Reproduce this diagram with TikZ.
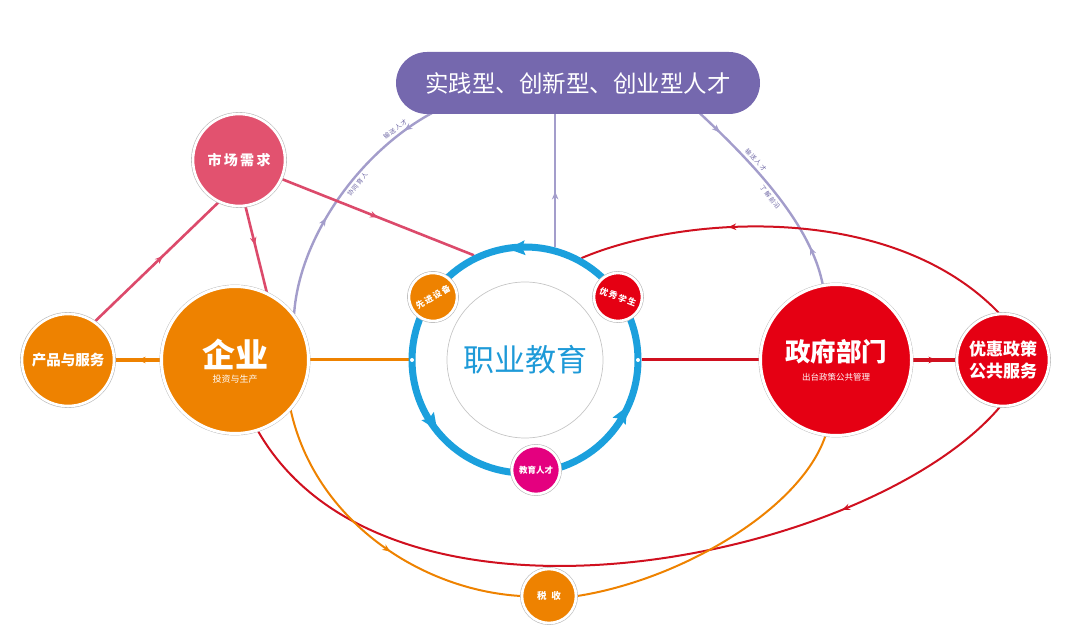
\documentclass[tikz,border=0pt]{standalone}
\usepackage{fontspec}
\setmainfont{Noto Sans CJK SC}
\usetikzlibrary{arrows.meta,decorations.markings,calc}
\definecolor{orangeC}{HTML}{EE8200}
\definecolor{pinkC}{HTML}{E2526F}
\definecolor{pinkL}{HTML}{DC4A6B}
\definecolor{redC}{HTML}{E50013}
\definecolor{redL}{HTML}{D0101F}
\definecolor{purpleB}{HTML}{7568AE}
\definecolor{purpleL}{HTML}{A39DCB}
\definecolor{purpleT}{HTML}{6F68A5}
\definecolor{blueC}{HTML}{1BA0DD}
\definecolor{blueT}{HTML}{1E9AD8}
\definecolor{magC}{HTML}{E4007F}
\pgfdeclarelayer{bg}
\pgfsetlayers{bg,main}
\newcommand\ringarr[1]{\fill[blueC, shift={({525+112*cos(#1)},{360-112*sin(#1)})}, rotate={#1+90}] (9,0) -- (-8,7.5) -- (-5,0) -- (-8,-7.5) -- cycle;}
\tikzset{
  bub/.style={circle, inner sep=0pt, fill=#1, draw=white, line width=2.6pt,
    preaction={draw=gray!55, line width=3.8pt}, text=white, align=center},
  wtext/.style={text=white, inner sep=0pt},
  midarr/.style={decoration={markings, mark=at position #1 with {\arrow{Stealth[length=8pt,width=6.5pt]}}}, postaction={decorate}},
  pline/.style={draw=purpleL, line width=2.4pt},
  kline/.style={draw=pinkL, line width=2.6pt},
  oline/.style={draw=orangeC, line width=2pt},
  rline/.style={draw=redL, line width=2pt},
  plab/.style={font=\fontsize{6.2}{7}\selectfont, text=purpleT, inner sep=2.5pt, sloped},
  smallf/.style={font=\fontsize{8.5}{10}\selectfont\bfseries},
}
\begin{document}
\begin{tikzpicture}[x=1pt,y=-1pt]
\useasboundingbox (0,0) rectangle (1080,644);
% banner
\node[fill=purpleB, rounded corners=31pt, minimum width=364pt, minimum height=62pt, text=white, inner sep=0pt] (banner) at (578,83) {\fontsize{23.5}{26}\selectfont 实践型、创新型、创业型人才};
% main nodes
\node[bub=pinkC, minimum size=92pt, font=\fontsize{14}{16}\selectfont\bfseries] (sc) at (239,160) {市\,场\,需\,求};
\node[bub=orangeC, minimum size=92pt, font=\fontsize{14.5}{16}\selectfont\bfseries] (cp) at (68,360) {产品与服务};
\node[bub=orangeC, minimum size=147pt, line width=3pt] (qy) at (235,360) {};
\node[wtext, font=\fontsize{33}{36}\selectfont\bfseries] (qyt) at (235,354) {企业};
\node[wtext, font=\fontsize{9}{10}\selectfont] (qys) at (235,379) {投资与生产};
\node[bub=redC, minimum size=151pt, line width=3pt] (zf) at (836,360) {};
\node[wtext, font=\fontsize{25.5}{28}\selectfont\bfseries] (zft) at (836,352) {政府部门};
\node[wtext, font=\fontsize{8.5}{10}\selectfont] (zfs) at (836,377) {出台政策公共管理};
\node[bub=redC, minimum size=92pt, font=\fontsize{17}{22}\selectfont\bfseries] (yh) at (1003,360) {优惠政策\\公共服务};
\node[bub=orangeC, minimum size=54pt, font=\fontsize{9.5}{10}\selectfont\bfseries] (ss) at (549,596) {税\enspace 收};
% ring
\node[circle, draw=blueC, line width=7pt, minimum size=226pt, inner sep=0pt] (ring) at (525,360) {};
\node[circle, draw=gray!45, line width=0.7pt, minimum size=156pt, inner sep=0pt, text=blueT, font=\fontsize{31}{34}\selectfont] (jy) at (525,360) {职业教育};
\ringarr{94}
\ringarr{214}
\ringarr{331}
\fill[white] ($(ring.center)+(-113,0)$) circle[radius=2pt];
\fill[white] ($(ring.center)+(113,0)$) circle[radius=2pt];
\node[bub=orangeC, minimum size=48pt, rotate=30, smallf] (xj) at (433,297) {先\,进\,设\,备};
\node[bub=redC, minimum size=48pt, rotate=-21, smallf] (yx) at (618,297) {优\,秀\,学\,生};
\node[bub=magC, minimum size=48pt, smallf] (jr) at (536,470) {教育人才};
% connectors
\begin{pgfonlayer}{bg}
\draw[pline, decoration={markings,
   mark=at position 0.38 with {\arrow{Stealth[length=8pt,width=6.5pt]}},
   mark=at position 0.85 with {\arrow{Stealth[length=8pt,width=6.5pt,reversed]}}}, postaction={decorate}]
  (qy.38) .. controls (300,230) and (370,140) .. ($(banner.south west)+(50,-8)$)
  node[plab, above, pos=0.79] (l1) {输\,送\,人\,才}
  node[plab, below, pos=0.55] (l2) {协\,同\,育\,人};
\draw[pline, decoration={markings,
   mark=at position 0.17 with {\arrow{Stealth[length=8pt,width=6.5pt]}},
   mark=at position 0.86 with {\arrow{Stealth[length=8pt,width=6.5pt,reversed]}}}, postaction={decorate}]
  ($(banner.south east)+(-68,-8)$) .. controls (745,155) and (810,220) .. (zf.100)
  node[plab, above, pos=0.36] (l3) {输\,送\,人\,才}
  node[plab, below, pos=0.52] (l4) {了\,解\,前\,沿};
\draw[pline, midarr=0.42] (ring.75) -- (ring.75 |- banner.south);
\draw[rline, midarr=0.66] (yh.95) .. controls (890,200) and (680,216) .. (ring.61);
\draw[rline, midarr=0.23] (yh.266) .. controls (870,560) and (390,660) .. (qy.288);
\draw[oline, midarr=0.56] (qy.318) .. controls (315,520) and (420,590) .. (ss.180);
\draw[oline] (ss.0) .. controls (680,580) and (800,510) .. (zf.262);
\draw[kline, midarr=0.55] (cp.55) -- (sc.244);
\draw[kline, midarr=0.45] (sc.278) -- (qy.65);
\draw[kline, midarr=0.5] (sc.336) -- (ring.116);
\draw[oline, line width=3.5pt, midarr=0.5] (qy.180) -- (cp.0);
\draw[oline, line width=3pt] (qy.0) -- (ring.180);
\draw[rline, line width=3pt] (ring.0) -- (zf.180);
\draw[rline, line width=3.5pt, midarr=0.55] (zf.0) -- (yh.180);
\end{pgfonlayer}
\end{tikzpicture}
\end{document}
